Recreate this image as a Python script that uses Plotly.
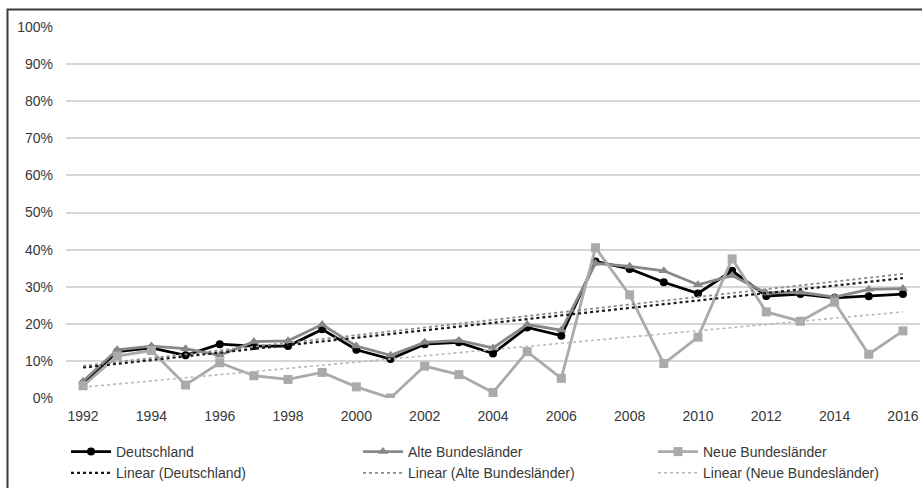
import numpy as np
import plotly.graph_objects as go

years = list(range(1992, 2017))
deutschland = [4, 12.5, 13.5, 11.5, 14.5, 14, 14, 18.5, 13, 10.5, 14.5, 15, 12, 19, 16.8,
               36.8, 34.8, 31.2, 28.2, 34.3, 27.5, 28, 27, 27.4, 28]
alte = [4.5, 13, 14, 13.3, 11.5, 15.2, 15.4, 19.8, 14, 11.5, 15, 15.5, 13.5, 19.8, 18.3,
        36.3, 35.5, 34.3, 30.5, 33, 28.3, 28.5, 27.2, 29.3, 29.5]
neue = [3.3, 11.3, 12.8, 3.5, 9.5, 6, 5, 6.9, 3, 0, 8.6, 6.3, 1.5, 12.5, 5.3,
        40.5, 27.8, 9.3, 16.4, 37.5, 23.2, 20.7, 25.8, 11.8, 18.1]
series_names = ["Deutschland", "Alte Bundesländer", "Neue Bundesländer"]
ytick_vals = list(range(0, 101, 10))
ytick_text = [f"{v}%" for v in ytick_vals]
xtick_vals = list(range(1992, 2017, 2))

W, H = 922, 488
L, R, T, B = 66, 2, 27, 90
FONT = "Arial, Liberation Sans, sans-serif"
TXT = "#383838"

colors = ["#000000", "#888888", "#aaaaaa"]
symbols = ["circle", "triangle-up", "square"]
msizes = [8, 9, 9]
trend_colors = ["#1a1a1a", "#8a8a8a", "#b8b8b8"]
trend_widths = [2.2, 1.8, 1.6]
legends = ["legend", "legend2", "legend3"]

fig = go.Figure()
data = [deutschland, alte, neue]
for i, (name, vals) in enumerate(zip(series_names, data)):
    fig.add_trace(go.Scatter(
        x=years, y=vals, name=name, mode="lines+markers",
        line=dict(color=colors[i], width=2.8),
        marker=dict(symbol=symbols[i], size=msizes[i], color=colors[i]),
        legend=legends[i],
    ))
for i, (name, vals) in enumerate(zip(series_names, data)):
    k, b = np.polyfit(np.array(years, float), np.array(vals, float), 1)
    fit = [k * y + b for y in years]
    fig.add_trace(go.Scatter(
        x=years, y=fit, name=f"Linear ({name})", mode="lines",
        line=dict(color=trend_colors[i], width=trend_widths[i], dash="dot"),
        legend=legends[i],
    ))

pw = W - L - R
ph = H - T - B
# outer frame
fig.add_shape(type="rect", xref="paper", yref="paper",
              x0=(7.5 - L) / pw, x1=(W + 5 - L) / pw,
              y0=-(H + 5 - T - ph) / ph, y1=1 + (T - 9.5) / ph,
              line=dict(color="#3a3a3a", width=2), layer="below")

leg_common = dict(orientation="v", xref="paper", yref="paper",
                  xanchor="left", yanchor="top", bgcolor="rgba(0,0,0,0)",
                  font=dict(family=FONT, size=14, color=TXT), itemwidth=40,
                  traceorder="normal")
col_x = [66, 358, 653]
legend_top = 436
lay_leg = {}
for i, lg in enumerate(legends):
    lay_leg[lg] = dict(leg_common, x=(col_x[i] - L) / pw,
                       y=(T + ph - legend_top) / ph)

fig.update_layout(
    width=W, height=H,
    margin=dict(l=L, r=R, t=T, b=B, autoexpand=False),
    paper_bgcolor="white", plot_bgcolor="white",
    font=dict(family=FONT, size=14, color=TXT),
    showlegend=True,
    xaxis=dict(range=[1991.5, 2016.5], tickvals=xtick_vals, showgrid=False,
               zeroline=False, showline=False, ticks="", automargin=False,
               ticklabelstandoff=8,
               tickfont=dict(family=FONT, size=14, color=TXT)),
    yaxis=dict(range=[0, 100], tickvals=ytick_vals, ticktext=ytick_text,
               showgrid=True, gridcolor="#d6d6d6", gridwidth=1.5,
               zeroline=False, showline=False, ticks="", automargin=False,
               ticklabelstandoff=12,
               tickfont=dict(family=FONT, size=14, color=TXT)),
    **lay_leg,
)

fig.write_html("out.html")
